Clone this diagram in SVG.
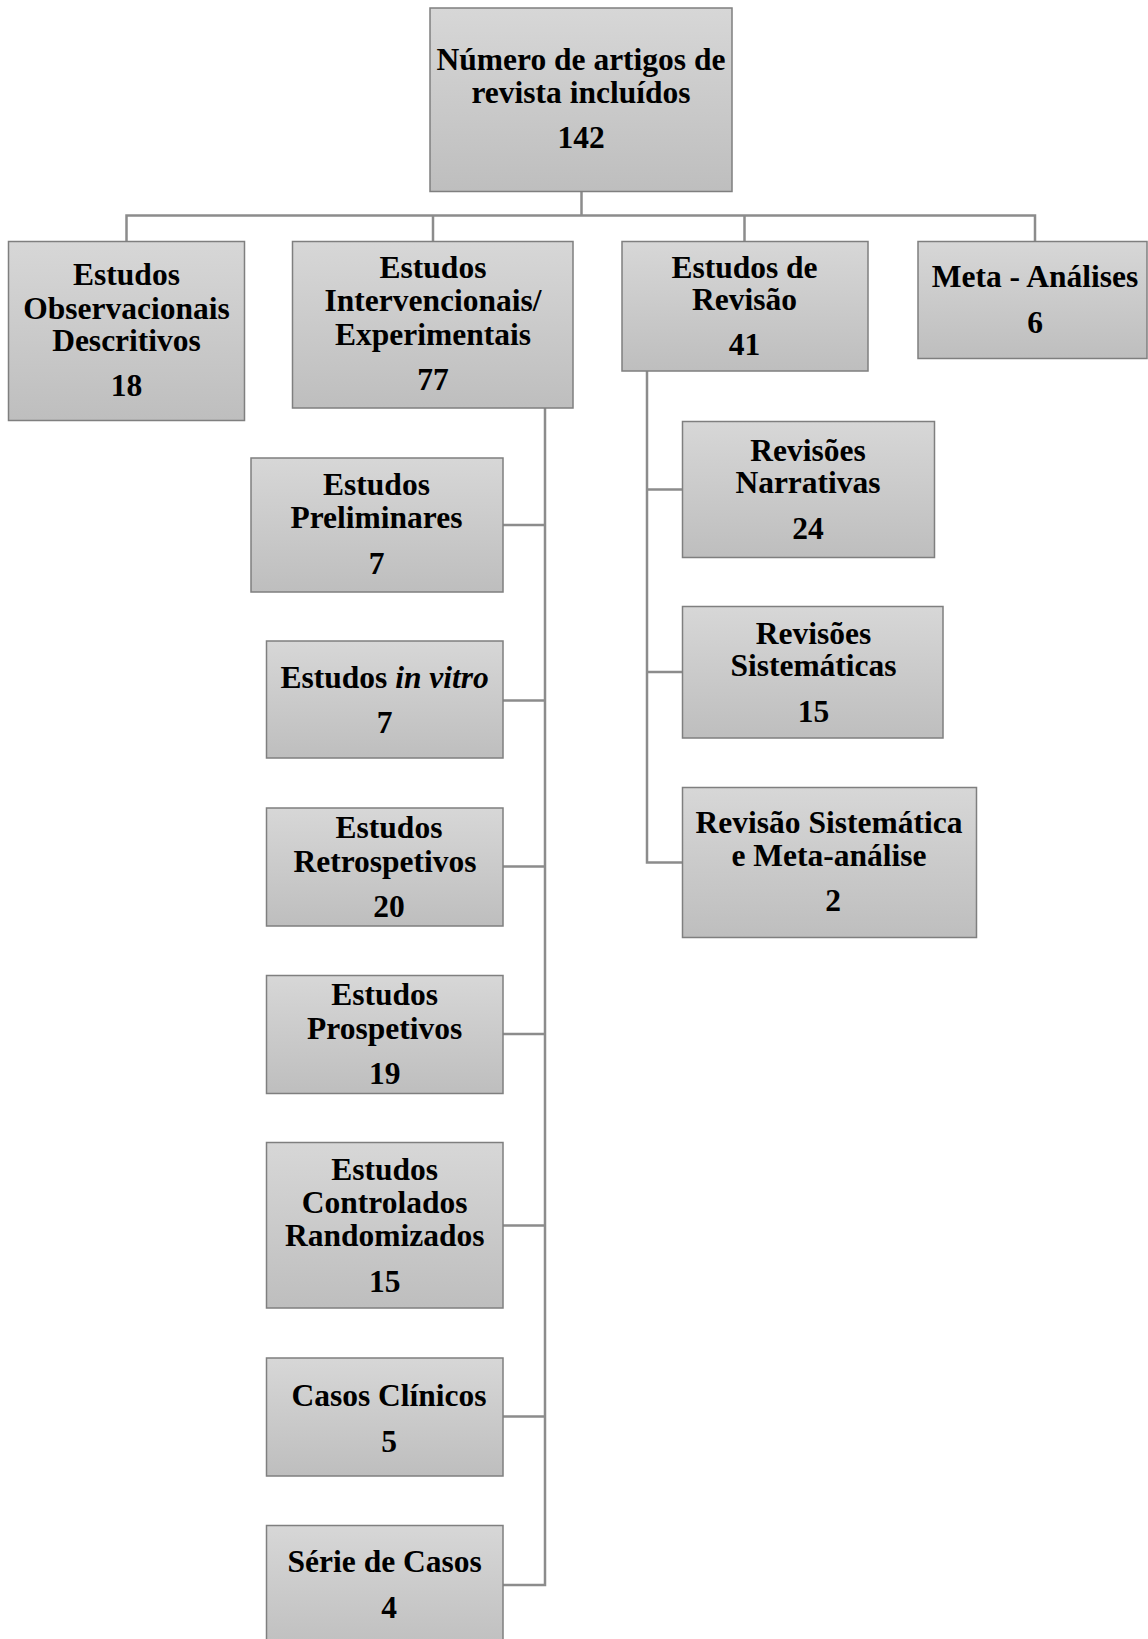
<svg xmlns="http://www.w3.org/2000/svg" width="1148" height="1639" viewBox="0 0 1148 1639">
<defs>
<linearGradient id="g" x1="0" y1="0" x2="0" y2="1">
<stop offset="0" stop-color="#d7d7d7"/>
<stop offset="1" stop-color="#bebebe"/>
</linearGradient>
</defs>
<style>
.box{fill:url(#g);stroke:#7f7f7f;stroke-width:1.5}
.t{font-family:"Liberation Serif","Times New Roman",serif;font-weight:bold;font-size:31.5px;fill:#000;text-anchor:middle}
.c{fill:none;stroke:#8c8c8c;stroke-width:2.5}
</style>
<rect width="1148" height="1639" fill="#fff"/>
<g id="connectors">
<path class="c" d="M581.5 191.5V215.5M126.5 241.5V215.5H1035V241.5M433 215.5V241.5M744.5 215.5V241.5"/>
<path class="c" d="M545 408V1585H503M503 525H545M503 700.5H545M503 866.5H545M503 1034H545M503 1225.5H545M503 1416.5H545"/>
<path class="c" d="M647 371V862.5H682.5M647 489.5H682.5M647 672H682.5"/>
</g>
<g id="root"><rect class="box" x="430" y="8" width="302" height="183.5"/>
<text class="t" x="581" y="69.5">Número de artigos de</text>
<text class="t" x="581" y="103">revista incluídos</text>
<text class="t" x="581" y="148">142</text></g>
<g id="obs"><rect class="box" x="8.5" y="241.5" width="236" height="179"/>
<text class="t" x="126.5" y="285">Estudos</text>
<text class="t" x="126.5" y="318.5">Observacionais</text>
<text class="t" x="126.5" y="351">Descritivos</text>
<text class="t" x="126.5" y="396">18</text></g>
<g id="interv"><rect class="box" x="292.5" y="241.5" width="280.5" height="166.5"/>
<text class="t" x="433" y="277.5">Estudos</text>
<text class="t" x="433" y="311">Intervencionais/</text>
<text class="t" x="433" y="344.5">Experimentais</text>
<text class="t" x="433" y="389.5">77</text></g>
<g id="revisao"><rect class="box" x="622" y="241.5" width="246" height="129.5"/>
<text class="t" x="744.5" y="277.5">Estudos de</text>
<text class="t" x="744.5" y="310">Revisão</text>
<text class="t" x="744.5" y="355">41</text></g>
<g id="meta"><rect class="box" x="918" y="241.5" width="229" height="117"/>
<text class="t" x="1035" y="287">Meta - Análises</text>
<text class="t" x="1035" y="333">6</text></g>
<g id="preliminares"><rect class="box" x="251" y="458" width="252" height="134"/>
<text class="t" x="376.5" y="495">Estudos</text>
<text class="t" x="376.5" y="527.5">Preliminares</text>
<text class="t" x="376.5" y="573.5">7</text></g>
<g id="invitro"><rect class="box" x="266.5" y="641" width="236.5" height="117"/>
<text class="t" x="384.7" y="687.5">Estudos <tspan font-style="italic">in vitro</tspan></text>
<text class="t" x="384.7" y="732.5">7</text></g>
<g id="retro"><rect class="box" x="266.5" y="808" width="236.5" height="118"/>
<text class="t" x="389" y="838">Estudos</text>
<text class="t" x="385" y="871.5">Retrospetivos</text>
<text class="t" x="389" y="916.5">20</text></g>
<g id="prosp"><rect class="box" x="266.5" y="975.5" width="236.5" height="118"/>
<text class="t" x="384.7" y="1005">Estudos</text>
<text class="t" x="384.7" y="1038.5">Prospetivos</text>
<text class="t" x="384.7" y="1083.5">19</text></g>
<g id="rct"><rect class="box" x="266.5" y="1142.5" width="236.5" height="165.5"/>
<text class="t" x="384.7" y="1180">Estudos</text>
<text class="t" x="384.7" y="1212.5">Controlados</text>
<text class="t" x="384.7" y="1246">Randomizados</text>
<text class="t" x="384.7" y="1291.5">15</text></g>
<g id="casos"><rect class="box" x="266.5" y="1358" width="236.5" height="118"/>
<text class="t" x="389" y="1405.5">Casos Clínicos</text>
<text class="t" x="389" y="1451.5">5</text></g>
<g id="serie"><rect class="box" x="266.5" y="1525.5" width="236.5" height="130"/>
<text class="t" x="384.7" y="1572">Série de Casos</text>
<text class="t" x="389" y="1618">4</text></g>
<g id="narrativas"><rect class="box" x="682.5" y="421.5" width="252" height="136"/>
<text class="t" x="808" y="460.5">Revisões</text>
<text class="t" x="808" y="493">Narrativas</text>
<text class="t" x="808" y="539">24</text></g>
<g id="sistematicas"><rect class="box" x="682.5" y="606.5" width="260.5" height="131.5"/>
<text class="t" x="813.5" y="643.5">Revisões</text>
<text class="t" x="813.5" y="676">Sistemáticas</text>
<text class="t" x="813.5" y="722">15</text></g>
<g id="rsma"><rect class="box" x="682.5" y="787.5" width="294" height="150"/>
<text class="t" x="829" y="832.5">Revisão Sistemática</text>
<text class="t" x="829" y="866">e Meta-análise</text>
<text class="t" x="833" y="911">2</text></g>
</svg>
